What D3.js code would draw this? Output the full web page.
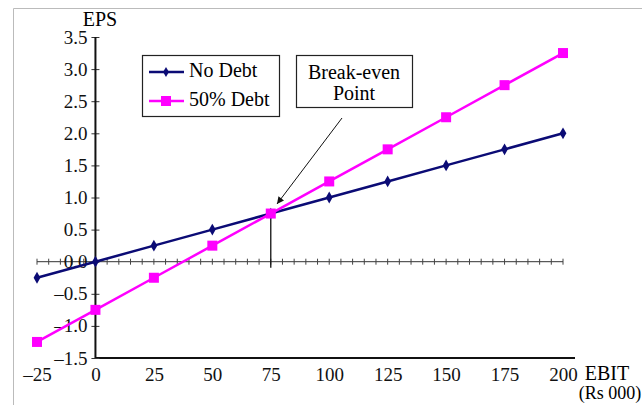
<!DOCTYPE html>
<head>
<meta charset="utf-8">
<title>EBIT-EPS</title>
<script src="https://d3js.org/d3.v7.min.js"></script>
<style>
body { margin: 0; background: #fff; }
svg, svg text { font-family: "Liberation Serif", "Times New Roman", serif; }
.tick text { font-size: 19px; fill: #111; font-family: "Liberation Serif", serif; }
</style>
</head>
<body>
<script>

const ebit = [-25, 0, 25, 50, 75, 100, 125, 150, 175, 200];
const noDebt = [-0.25, 0, 0.25, 0.5, 0.75, 1.0, 1.25, 1.5, 1.75, 2.0];
const halfDebt = [-1.25, -0.75, -0.25, 0.25, 0.75, 1.25, 1.75, 2.25, 2.75, 3.25];
const yTicks = [-1.5, -1.0, -0.5, 0.0, 0.5, 1.0, 1.5, 2.0, 2.5, 3.0, 3.5];
const breakEven = {x: 75, y: 0.75};

const width = 642, height = 405;

const svg = d3.select('body').append('svg')
  .attr('width', width)
  .attr('height', height);

// faint frame of the scan
svg.append('path')
  .attr('d', 'M13.5,' + height + 'V8.5H' + width)
  .attr('fill', 'none')
  .attr('stroke', '#bbb');

const x = d3.scaleLinear().domain([-25, 200]).range([37, 563]);
const y = d3.scaleLinear().domain([-1.5, 3.5]).range([358, 37]);

// horizontal axis at zero with small ticks
const minor = d3.range(-25, 201, 5);
svg.append('line')
  .attr('x1', x(-25)).attr('x2', x(200))
  .attr('y1', y(0)).attr('y2', y(0))
  .attr('stroke', '#333').attr('stroke-width', 1);
svg.append('g').selectAll('line')
  .data(minor)
  .enter().append('line')
    .attr('x1', d => x(d)).attr('x2', d => x(d))
    .attr('y1', y(0) - 3).attr('y2', y(0) + 3)
    .attr('stroke', '#444');

// bottom axis (labels only)
const xAxis = svg.append('g')
  .attr('transform', 'translate(0,' + y(-1.5) + ')')
  .call(d3.axisBottom(x).tickValues(ebit).tickSize(0).tickPadding(10).tickFormat(d => d < 0 ? '\u2013' + (-d) : d));
xAxis.select('.domain').remove();
svg.append('line')
  .attr('x1', x(0)).attr('x2', 575)
  .attr('y1', y(-1.5)).attr('y2', y(-1.5))
  .attr('stroke', '#111').attr('stroke-width', 2);

// vertical axis
const yAxis = svg.append('g')
  .attr('transform', 'translate(' + x(0) + ',0)')
  .call(d3.axisLeft(y).tickValues(yTicks).tickSize(4).tickPadding(4)
    .tickFormat(d => (d < 0 ? '\u2013' + (-d).toFixed(1) : d.toFixed(1))));
yAxis.select('.domain').remove();
yAxis.selectAll('.tick line').attr('x1', 4).attr('stroke', '#333');
svg.append('line')
  .attr('x1', x(0)).attr('x2', x(0))
  .attr('y1', y(3.5)).attr('y2', y(-1.5))
  .attr('stroke', '#111').attr('stroke-width', 2);

svg.append('text')
  .attr('x', 100).attr('y', 26)
  .attr('text-anchor', 'middle')
  .style('font-size', '20px')
  .text('EPS');

svg.append('text')
  .attr('x', 607).attr('y', 380)
  .attr('text-anchor', 'middle')
  .style('font-size', '20px')
  .text('EBIT');
svg.append('text')
  .attr('x', 610).attr('y', 399)
  .attr('text-anchor', 'middle')
  .style('font-size', '18px')
  .text('(Rs 000)');

// break-even drop line
svg.append('line')
  .attr('x1', x(breakEven.x)).attr('x2', x(breakEven.x))
  .attr('y1', y(breakEven.y)).attr('y2', y(0) + 6)
  .attr('stroke', '#111').attr('stroke-width', 1.3);

const line = d3.line().x(d => x(d[0])).y(d => y(d[1]));

const navy = '#0b0b75', magenta = '#ff00ff';

svg.append('path')
  .datum(ebit.map((e, i) => [e, noDebt[i]]))
  .attr('fill', 'none').attr('stroke', navy).attr('stroke-width', 2.5)
  .attr('d', line);
svg.append('path')
  .datum(ebit.map((e, i) => [e, halfDebt[i]]))
  .attr('fill', 'none').attr('stroke', magenta).attr('stroke-width', 2.5)
  .attr('d', line);

const diamond = d3.symbol().type(d3.symbolDiamond).size(40);
svg.append('g').selectAll('path')
  .data(ebit.map((e, i) => [e, noDebt[i]]))
  .enter().append('path')
    .attr('d', diamond)
    .attr('transform', d => 'translate(' + x(d[0]) + ',' + y(d[1]) + ')')
    .attr('fill', navy);

svg.append('g').selectAll('rect')
  .data(ebit.map((e, i) => [e, halfDebt[i]]))
  .enter().append('rect')
    .attr('x', d => x(d[0]) - 5).attr('y', d => y(d[1]) - 5)
    .attr('width', 10).attr('height', 10)
    .attr('fill', magenta);

// legend
const legend = svg.append('g');
legend.append('rect')
  .attr('x', 142.5).attr('y', 55.5).attr('width', 137).attr('height', 61)
  .attr('fill', '#fff').attr('stroke', '#222').attr('stroke-width', 1.2);
const items = [
  {name: 'No Debt', color: navy, y: 72},
  {name: '50% Debt', color: magenta, y: 101}
];
items.forEach((it, i) => {
  legend.append('line')
    .attr('x1', 149).attr('x2', 184)
    .attr('y1', it.y).attr('y2', it.y)
    .attr('stroke', it.color).attr('stroke-width', 2.5);
  if (i === 0) {
    legend.append('path')
      .attr('d', d3.symbol().type(d3.symbolDiamond).size(30))
      .attr('transform', 'translate(166,' + it.y + ')')
      .attr('fill', it.color);
  } else {
    legend.append('rect')
      .attr('x', 161).attr('y', it.y - 5).attr('width', 10).attr('height', 10)
      .attr('fill', it.color);
  }
  legend.append('text')
    .attr('x', 189).attr('y', it.y + 5)
    .style('font-size', '20px')
    .text(it.name);
});

// break-even box and arrow
svg.append('rect')
  .attr('x', 296.5).attr('y', 55.5).attr('width', 116).attr('height', 52)
  .attr('fill', '#fff').attr('stroke', '#222').attr('stroke-width', 1.2);
svg.append('text')
  .attr('x', 354).attr('y', 79)
  .attr('text-anchor', 'middle')
  .style('font-size', '20px')
  .text('Break-even');
svg.append('text')
  .attr('x', 354).attr('y', 100)
  .attr('text-anchor', 'middle')
  .style('font-size', '20px')
  .text('Point');

svg.append('defs').append('marker')
  .attr('id', 'arr')
  .attr('viewBox', '0 0 10 10')
  .attr('refX', 10).attr('refY', 5)
  .attr('markerWidth', 9).attr('markerHeight', 7)
  .attr('orient', 'auto')
  .attr('markerUnits', 'userSpaceOnUse')
  .append('path')
    .attr('d', 'M0,0L10,5L0,10z')
    .attr('fill', '#111');
svg.append('line')
  .attr('x1', 342).attr('y1', 118)
  .attr('x2', 277).attr('y2', 204)
  .attr('stroke', '#111').attr('stroke-width', 1)
  .attr('marker-end', 'url(#arr)');

</script>
</body>
